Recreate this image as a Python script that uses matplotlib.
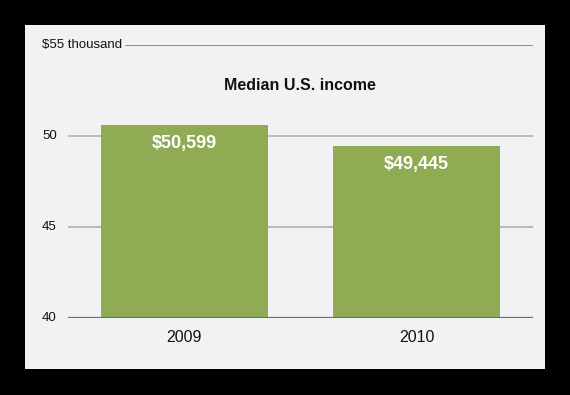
import matplotlib
matplotlib.use("Agg")
import matplotlib.pyplot as plt
from matplotlib.patches import Rectangle
from matplotlib.transforms import blended_transform_factory

# data
years = ["2009", "2010"]
incomes = [50.599, 49.445]  # thousands of dollars
value_labels = ["$50,599", "$49,445"]
y_ticks = [40, 45, 50, 55]
y_tick_labels = ["40", "45", "50", "$55 thousand"]

BAR_COLOR = "#8fac54"
PANEL = "#f2f2f4"
SANS = ["Liberation Sans", "DejaVu Sans"]

fig = plt.figure(figsize=(5.7, 3.95), dpi=100)
fig.patch.set_facecolor("black")

# light panel on the black background
fig.patches.append(Rectangle((25 / 570, 26 / 395), 520 / 570, 344 / 395,
                             transform=fig.transFigure, facecolor=PANEL,
                             edgecolor="none", zorder=-5))

ax = fig.add_axes([68 / 570, 77 / 395, 465 / 570, 273 / 395])
ax.set_zorder(1)
ax.set_facecolor("none")
ax.set_xlim(-0.5, 1.5)
ax.set_ylim(40, 55)

x = range(len(years))
ax.bar(x, [v - 40 for v in incomes], bottom=40, width=0.72,
       color=BAR_COLOR, zorder=2)

# gridlines
ax.axhline(55, xmin=58 / 465, xmax=1, color="#7a7a7a", lw=1.2, zorder=1)
ax.axhline(50, color="#b0b0b0", lw=1.2, zorder=1)
ax.axhline(45, color="#b0b0b0", lw=1.2, zorder=1)
ax.axhline(40, color="#6e6e6e", lw=1.6, zorder=3)

for s in ax.spines.values():
    s.set_visible(False)
ax.set_xticks([])
ax.set_yticks([])

# y labels, left aligned at the panel margin
trans = blended_transform_factory(fig.transFigure, ax.transData)
for t, lab in zip(y_ticks, y_tick_labels):
    ax.text(42 / 570, t, lab, transform=trans, ha="left", va="center",
            fontsize=9.5, family=SANS, color="#111111")

for xi, yr in zip(x, years):
    ax.annotate(yr, (xi, 40), xytext=(0, -14), textcoords="offset points",
                ha="center", va="center", fontsize=11.5, family=SANS,
                color="#111111", annotation_clip=False)

for xi, v, lab in zip(x, incomes, value_labels):
    ax.annotate(lab, (xi, v), xytext=(0, -13), textcoords="offset points",
                ha="center", va="center", fontsize=13, fontweight="bold",
                family=SANS, color="white", zorder=4)

fig.text(300 / 570, 1 - 85 / 395, "Median U.S. income", ha="center",
         va="center", fontsize=11.5, fontweight="bold", family=SANS,
         color="#111111")

fig.savefig("out.png", dpi=100, facecolor=fig.get_facecolor())
